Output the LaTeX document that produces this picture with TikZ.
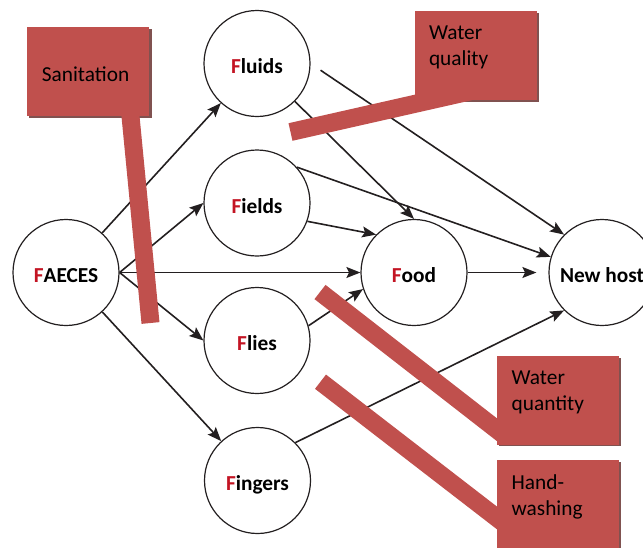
\documentclass[tikz,border=0pt]{standalone}
\usepackage{fontspec}
\setmainfont{Carlito}
\usetikzlibrary{arrows.meta}
\definecolor{fdiag@red}{RGB}{192,80,77}
\definecolor{fdiag@shadow}{RGB}{128,82,80}
\definecolor{fdiag@letter}{RGB}{195,20,35}
\definecolor{fdiag@ink}{RGB}{35,31,32}
\newcommand{\fF}{\textcolor{fdiag@letter}{F}}

\tikzset{
  fnode/.style={circle, draw=fdiag@ink, line width=0.9pt, fill=white, minimum size=79.5pt,
    inner sep=0pt, font=\fontsize{16}{19}\selectfont\bfseries,
    text height=15pt, text depth=0pt},
  flow/.style={-{Stealth[length=10.5pt,width=8.25pt,inset=2pt]}, line width=1.2pt,
    fdiag@ink},
  barrier/.style={fdiag@red, line width=13.5pt},
  fbox/.style={fill=fdiag@red, inner sep=0pt, minimum width=91.5pt, minimum height=66.75pt},
  boxtext/.style={anchor=north west, inner sep=0pt, align=left,
    font=\fontsize{16}{19.5}\selectfont},
}

\begin{document}
\begin{tikzpicture}[x=0.75pt,y=-0.75pt]
\useasboundingbox (0,0) rectangle (643,547);
\clip (0,0) rectangle (643,547);

% transmission routes
\node[fnode] (faeces)  at (66,272.5)   {\fF AECES};
\node[fnode] (fluids)  at (257,63.5)   {\fF luids};
\node[fnode] (fields)  at (257,203)    {\fF ields};
\node[fnode] (flies)   at (257,340.5)  {\fF lies};
\node[fnode] (fingers) at (257.5,480.5) {\fF ingers};
\node[fnode] (food)    at (414,272.5)  {\fF ood};
\node[fnode] (host)    at (602,272.5)  {New host};

\draw[flow] (faeces) -- (fluids);
\draw[flow] (faeces.east) -- (fields.west);
\draw[flow] (faeces.east) -- (food.west);
\draw[flow] (faeces.east) -- (flies.west);
\draw[flow] (faeces) -- (fingers);

\draw[flow] (fluids.south east) -- (food.north);
\draw[flow, shorten <=9pt] (fluids.east) -- (host.north west);
\draw[flow] (fields.-20) -- (food.north west);
\draw[flow] (fields.42) -- (host.163);
\draw[flow] (flies.16) -- (food.198);
\draw[flow] (fingers.north east) -- (host.south west);
\draw[flow, shorten >=9pt] (food) -- (host);

% shadows of the barrier boxes
\fill[fdiag@shadow] (29.2,29.2) rectangle ++(122.3,89);
\fill[fdiag@shadow] (417,13) rectangle ++(122,89);
\fill[fdiag@shadow] (499,358) rectangle ++(122,88);
\fill[fdiag@shadow] (499,462) rectangle ++(122,88);

% barriers
\coordinate (sanfrom) at (127,80);
\coordinate (santo) at (150.5,323);
\coordinate (qualfrom) at (500,84.6);
\coordinate (qualto) at (290.5,132);
\coordinate (quantfrom) at (505,436);
\coordinate (quantto) at (320,292);
\coordinate (handfrom) at (510,528);
\coordinate (handto) at (320.5,381.7);

\draw[barrier] (sanfrom) -- (santo);
\draw[barrier] (qualfrom) -- (qualto);
\draw[barrier] (quantfrom) -- (quantto);
\draw[barrier] (handfrom) -- (handto);

% Sanitation
\node[fbox] (sanbox) at (87.9,71.4) {};
\node[boxtext] (santext) at ([shift={(15,40)}]sanbox.north west) {Sanitation};

% Water quality
\node[fbox] (qualbox) at (476,55.5) {};
\node[boxtext] (qualtext) at ([shift={(14,15)}]qualbox.north west) {Water\\quality};

% Water quantity
\node[fbox] (quantbox) at (558,400) {};
\node[boxtext] (quanttext) at ([shift={(14.7,15)}]quantbox.north west) {Water\\quantity};

% Hand-washing
\node[fbox] (handbox) at (558,504) {};
\node[boxtext] (handtext) at ([shift={(14.7,15.5)}]handbox.north west) {Hand-\\washing};

\end{tikzpicture}
\end{document}
